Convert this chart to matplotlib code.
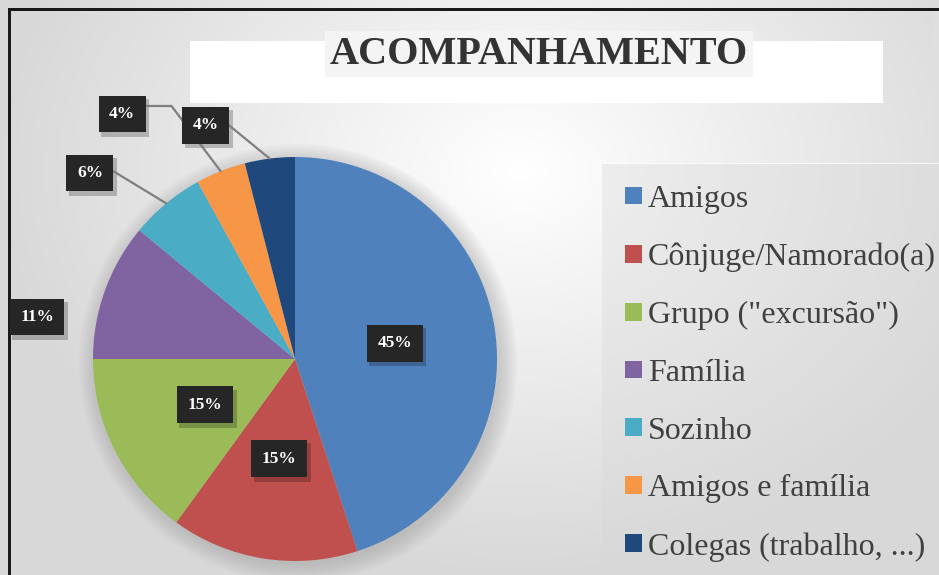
import numpy as np
import matplotlib.pyplot as plt
import matplotlib.transforms as mtransforms
from matplotlib.patches import Rectangle, Circle
from matplotlib.font_manager import FontProperties

# Data
categories = ['Amigos', 'Cônjuge/Namorado(a)', 'Grupo ("excursão")', 'Família',
              'Sozinho', 'Amigos e família', 'Colegas (trabalho, ...)']
values = [45, 15, 15, 11, 6, 4, 4]
colors = ['#4F81BD', '#C0504D', '#9BBB59', '#8064A2', '#4BACC6', '#F79646', '#1F497D']

W, H = 939, 575
fig = plt.figure(figsize=(W / 100, H / 100), dpi=100)
fig.patch.set_facecolor('#e2e2e2')

# background gradient straight into figure pixels
yy, xx = np.mgrid[0:H, 0:W]
d = np.sqrt(((xx - 520) / 520.0) ** 2 + ((yy - 170) / 400.0) ** 2)
shade = 1 - 0.15 * np.clip(d, 0, 1)
fig.figimage(np.dstack([shade, shade, shade]), xo=0, yo=0, origin='upper', zorder=-10)

bg = fig.add_axes([0, 0, 1, 1])
bg.patch.set_alpha(0)
bg.set_xlim(0, W)
bg.set_ylim(H, 0)
bg.axis('off')
bg.add_patch(Rectangle((190, 41), 693, 62, fc='white', ec='none'))
bg.add_patch(Rectangle((602, 163), W - 602, H - 163, fc='#d8d8d8', ec='none', alpha=0.35))
bg.add_patch(Rectangle((602, 162.5), W - 602, 1, fc='white', ec='none', alpha=0.8))
# black frame, left and top only
bg.add_patch(Rectangle((7.5, 7.5), 3, H, fc='#1a1a1a', ec='none'))
bg.add_patch(Rectangle((7.5, 7.5), W, 3, fc='#1a1a1a', ec='none'))

fig.text(539 / W, 1 - 54 / H, 'ACOMPANHAMENTO', family='Liberation Serif', weight='bold',
         size=29, color='#333333', ha='center', va='center',
         bbox=dict(boxstyle='square,pad=0.12', fc='#f4f4f4', ec='none'))

# pie axes: centre (295, 359) px, radius 202 px
cx, cy, r = 295, 359, 202
ax = fig.add_axes([(cx - r) / W, (H - cy - r) / H, 2 * r / W, 2 * r / H])
ax.patch.set_alpha(0)
for i in range(8):
    ax.add_patch(Circle((0.015, -0.02), 1 + 0.012 * i, fc='#8a8a8a', ec='none',
                        alpha=0.05, zorder=0, clip_on=False))
wedges, _ = ax.pie(values, colors=colors, startangle=90, counterclock=False,
                   wedgeprops=dict(linewidth=0))
ax.set_xlim(-1, 1)
ax.set_ylim(-1, 1)
ax.set_aspect('equal')
ax.axis('off')

total = float(sum(values))
cum = np.cumsum([0] + values[:-1])
mids = np.deg2rad(90 - 360 * (cum + np.array(values) / 2.0) / total)

# label placement (layout): inner labels at half radius, outer ones dragged out
outer_pos = {3: (-1.277, 0.208), 4: (-1.015, 0.921), 5: (-0.856, 1.213), 6: (-0.441, 1.158)}
leader = {4: 'arc3', 5: 'angle,angleA=0,angleB=-53,rad=0', 6: 'arc3'}

shadow_tr = mtransforms.offset_copy(ax.transData, fig, x=3, y=-4, units='dots')
box = dict(boxstyle='square,pad=0.6', fc='#262626', ec='none')
font = dict(family='Liberation Serif', weight='bold', size=12.5)

for i, v in enumerate(values):
    txt = f'{v}%'
    edge = (np.cos(mids[i]), np.sin(mids[i]))
    if i in outer_pos:
        pos = outer_pos[i]
    else:
        pos = (0.5 * edge[0], 0.5 * edge[1])
    ax.text(pos[0], pos[1], txt, transform=shadow_tr, ha='center', va='center', color='none',
            bbox=dict(boxstyle='square,pad=0.65', fc='#000000', ec='none', alpha=0.22),
            zorder=4, clip_on=False, **font)
    if i in leader:
        ax.annotate(txt, xy=edge, xytext=pos, ha='center', va='center', color='white',
                    bbox=box, zorder=5, annotation_clip=False,
                    arrowprops=dict(arrowstyle='-', color='#7f7f7f', lw=1.6, relpos=(1, 1),
                                    shrinkA=0, shrinkB=0, connectionstyle=leader[i]),
                    **font)
    else:
        ax.text(pos[0], pos[1], txt, ha='center', va='center', color='white', bbox=box,
                zorder=5, clip_on=False, **font)

leg = ax.legend(wedges, categories, loc='upper left', bbox_to_anchor=(625 / W, 1 - 185 / H),
                bbox_transform=fig.transFigure, frameon=False,
                prop=FontProperties(family='Liberation Serif', size=23),
                handlelength=0.53, handleheight=0.47, handletextpad=0.19,
                labelspacing=0.9, borderpad=0, borderaxespad=0)
for t in leg.get_texts():
    t.set_color('#404040')

# tidy the right edge strip above the legend panel
fig.add_artist(Rectangle((W - 6, H - 162), 6, 151, transform=None, fc='#dfdfdf',
                         ec='none', zorder=10))

fig.savefig('out.png', dpi=100)
